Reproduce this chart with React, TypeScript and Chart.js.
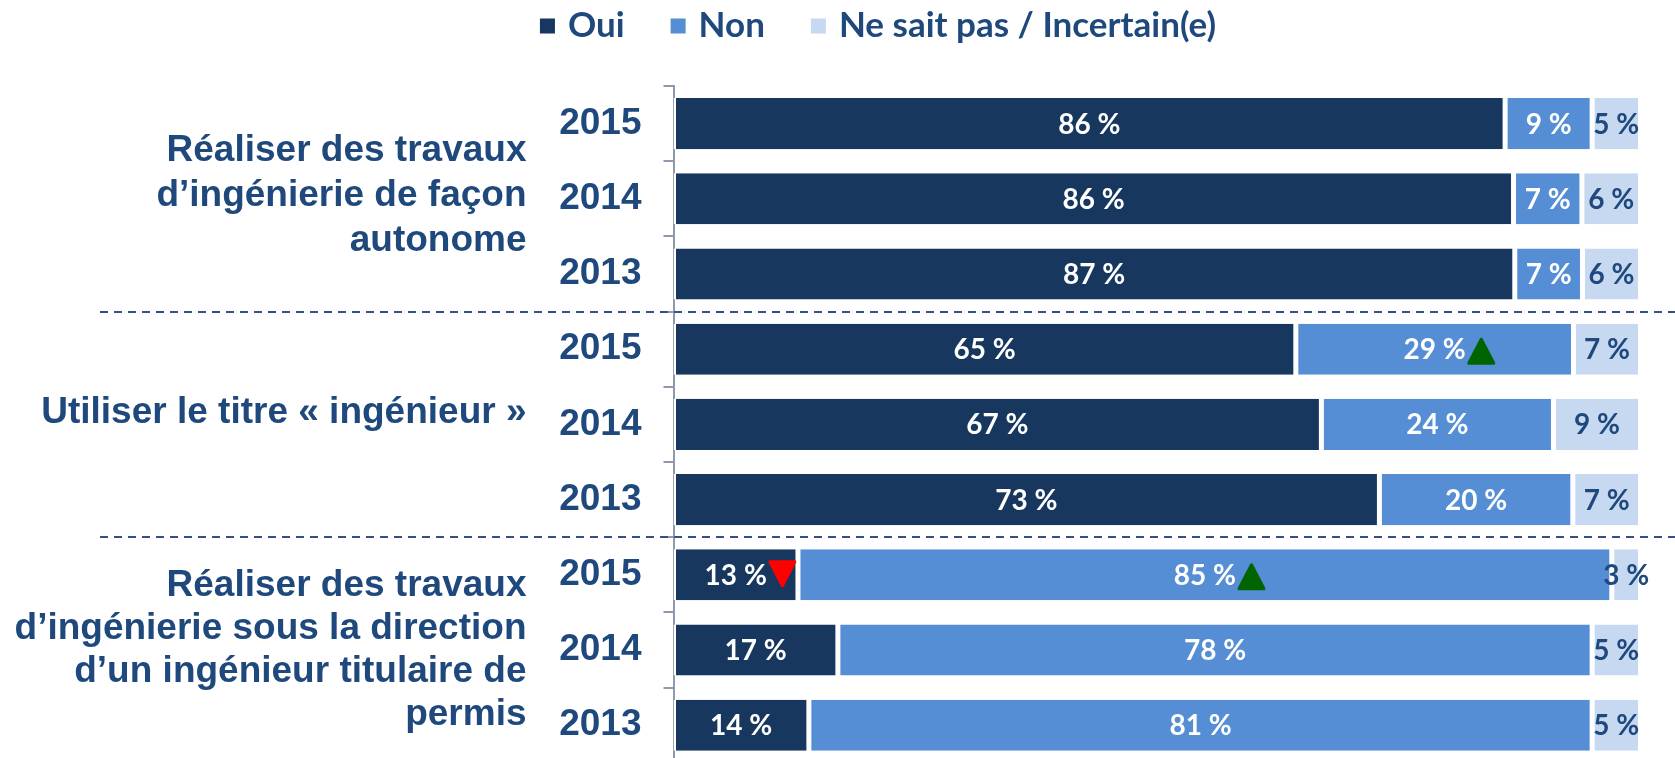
import React, { useEffect, useRef } from "react";
import { Chart, registerables } from "chart.js";

Chart.register(...registerables);

const categories = ["2015", "2014", "2013", "2015", "2014", "2013", "2015", "2014", "2013"];
const groupLabels = [
  ["Réaliser des travaux", "d’ingénierie de façon", "autonome"],
  ["Utiliser le titre « ingénieur »"],
  ["Réaliser des travaux", "d’ingénierie sous la direction", "d’un ingénieur titulaire de", "permis"],
];
const seriesNames = ["Oui", "Non", "Ne sait pas / Incertain(e)"];
const ouiValues = [86, 86, 87, 65, 67, 73, 13, 17, 14];
const nonValues = [9, 7, 7, 29, 24, 20, 85, 78, 81];
const nspValues = [5, 6, 6, 7, 9, 7, 3, 5, 5];
// 1 = significant increase, -1 = significant decrease
const ouiTrend = [0, 0, 0, 0, 0, 0, -1, 0, 0];
const nonTrend = [0, 0, 0, 1, 0, 0, 1, 0, 0];
const nspTrend = [0, 0, 0, 0, 0, 0, 0, 0, 0];

const COLORS = ["#17375E", "#558ED5", "#C6D9F1"];
const TEXT_BLUE = "#1F497D";
const LABEL_FONT = "Lato, 'Open Sans', sans-serif";
const ARIAL = "'Liberation Sans', Arial, sans-serif";
const GROUP_OFFSETS = [-4, -13, -1];
const GROUP_LINE_HEIGHTS = [45, 44, 43];

export default function App() {
  const ref = useRef<HTMLCanvasElement | null>(null);

  useEffect(() => {
    let chart: any = null;
    let cancelled = false;
    const rawSeries = [ouiValues, nonValues, nspValues];
    const trends = [ouiTrend, nonTrend, nspTrend];
    const totals = categories.map((_, i) => ouiValues[i] + nonValues[i] + nspValues[i]);

    const legendPlugin = {
      id: "customLegend",
      afterDraw(c: any) {
        const ctx = c.ctx;
        ctx.save();
        ctx.font = `bold 35px ${LABEL_FONT}`;
        const box = 15;
        const textGap = 13;
        const itemGap = 46;
        const widths = c.data.datasets.map((d: any) => box + textGap + ctx.measureText(d.label).width);
        const total = widths.reduce((a: number, b: number) => a + b, 0) + itemGap * (widths.length - 1);
        let x = 878 - total / 2;
        c.data.datasets.forEach((d: any, i: number) => {
          ctx.fillStyle = d.backgroundColor;
          ctx.fillRect(x, 18.5, box, box);
          ctx.fillStyle = TEXT_BLUE;
          ctx.textAlign = "left";
          ctx.textBaseline = "alphabetic";
          ctx.fillText(d.label, x + box + textGap, 37);
          x += widths[i] + itemGap;
        });
        ctx.restore();
      },
    };

    const valueLabelPlugin = {
      id: "valueLabels",
      afterDatasetsDraw(c: any) {
        const ctx = c.ctx;
        ctx.save();
        ctx.font = `bold 28px ${LABEL_FONT}`;
        ctx.textAlign = "center";
        ctx.textBaseline = "middle";
        c.data.datasets.forEach((d: any, di: number) => {
          const meta = c.getDatasetMeta(di);
          meta.data.forEach((bar: any, j: number) => {
            const cx = (bar.x + bar.base) / 2;
            const cy = bar.y;
            const txt = `${d.raw[j]} %`;
            ctx.fillStyle = di === 2 ? TEXT_BLUE : "#FFFFFF";
            ctx.fillText(txt, cx, cy + 1);
            const t = trends[di][j];
            if (t !== 0) {
              const w = ctx.measureText(txt).width;
              const x0 = cx + w / 2 + 3;
              const tw = 25;
              const th = 24;
              ctx.beginPath();
              if (t > 0) {
                ctx.moveTo(x0 + tw / 2, cy - th / 2 + 2);
                ctx.lineTo(x0 + tw, cy + th / 2 + 2);
                ctx.lineTo(x0, cy + th / 2 + 2);
                ctx.fillStyle = "#006400";
                ctx.strokeStyle = "#006400";
              } else {
                ctx.moveTo(x0, cy - th / 2 - 1);
                ctx.lineTo(x0 + tw, cy - th / 2 - 1);
                ctx.lineTo(x0 + tw / 2, cy + th / 2 - 1);
                ctx.fillStyle = "#FF0000";
                ctx.strokeStyle = "#FF0000";
              }
              ctx.closePath();
              ctx.lineJoin = "round";
              ctx.lineWidth = 3;
              ctx.fill();
              ctx.stroke();
            }
          });
        });
        ctx.restore();
      },
    };

    const decorPlugin = {
      id: "decor",
      afterDraw(c: any) {
        const ctx = c.ctx;
        const ys = c.scales.y;
        ctx.save();
        // group labels
        ctx.font = `bold 37px ${ARIAL}`;
        ctx.fillStyle = TEXT_BLUE;
        ctx.textAlign = "right";
        ctx.textBaseline = "middle";
        groupLabels.forEach((lines, g) => {
          const lh = GROUP_LINE_HEIGHTS[g];
          const cy = ys.getPixelForValue(g * 3 + 1) + GROUP_OFFSETS[g];
          lines.forEach((line, i) => {
            ctx.fillText(line, c.chartArea.left - 147, cy + (i - (lines.length - 1) / 2) * lh + 1);
          });
        });
        // dashed separators
        ctx.strokeStyle = "#2F5289";
        ctx.lineWidth = 2;
        ctx.setLineDash([8, 6]);
        [2, 5].forEach((k) => {
          const y = Math.round((ys.getPixelForValue(k) + ys.getPixelForValue(k + 1)) / 2);
          ctx.beginPath();
          ctx.moveTo(100, y);
          ctx.lineTo(c.width, y);
          ctx.stroke();
        });
        ctx.restore();
      },
    };

    const create = () => {
      if (cancelled || !ref.current) return;
      chart = new Chart(ref.current, {
        type: "bar",
        data: {
          labels: categories,
          datasets: rawSeries.map((vals, di) => ({
            label: seriesNames[di],
            raw: vals,
            data: vals.map((v, i) => (v / totals[i]) * 100),
            backgroundColor: COLORS[di],
            borderColor: "#FFFFFF",
            borderWidth: { left: 2.5, right: 2.5, top: 0, bottom: 0 },
            borderSkipped: false,
            barPercentage: 0.68,
            categoryPercentage: 1,
          })) as any,
        },
        options: {
          indexAxis: "y",
          responsive: false,
          animation: false,
          devicePixelRatio: 1,
          layout: { padding: { top: 86, right: 34.5, bottom: 0, left: 0 } },
          plugins: {
            legend: { display: false },
            tooltip: { enabled: false },
            title: { display: false },
          },
          scales: {
            x: { stacked: true, min: 0, max: 100, display: false },
            y: {
              stacked: true,
              offset: true,
              afterFit: (s: any) => {
                s.width = 673.5;
              },
              border: { display: true, color: "#8F9AAE", width: 2 },
              grid: {
                offset: true,
                drawOnChartArea: false,
                drawTicks: true,
                tickLength: 10,
                color: "#8F9AAE",
                lineWidth: 2,
              },
              ticks: {
                color: TEXT_BLUE,
                padding: 22,
                font: { family: ARIAL, size: 37, weight: "bold" },
              },
            },
          },
        },
        plugins: [legendPlugin, valueLabelPlugin, decorPlugin],
      } as any);
    };

    const fontsApi: any = (document as any).fonts;
    if (fontsApi && fontsApi.load) {
      Promise.all([
        fontsApi.load(`bold 35px Lato`),
        fontsApi.load(`bold 37px 'Liberation Sans'`),
      ])
        .catch(() => null)
        .then(create);
    } else {
      create();
    }

    return () => {
      cancelled = true;
      if (chart) chart.destroy();
    };
  }, []);

  return (
    <div
      style={{
        position: "fixed",
        left: 0,
        top: 0,
        width: 1675,
        height: 758,
        overflow: "hidden",
        background: "#FFFFFF",
      }}
    >
      <canvas ref={ref} width={1675} height={807} style={{ display: "block", width: 1675, height: 807 }} />
    </div>
  );
}
